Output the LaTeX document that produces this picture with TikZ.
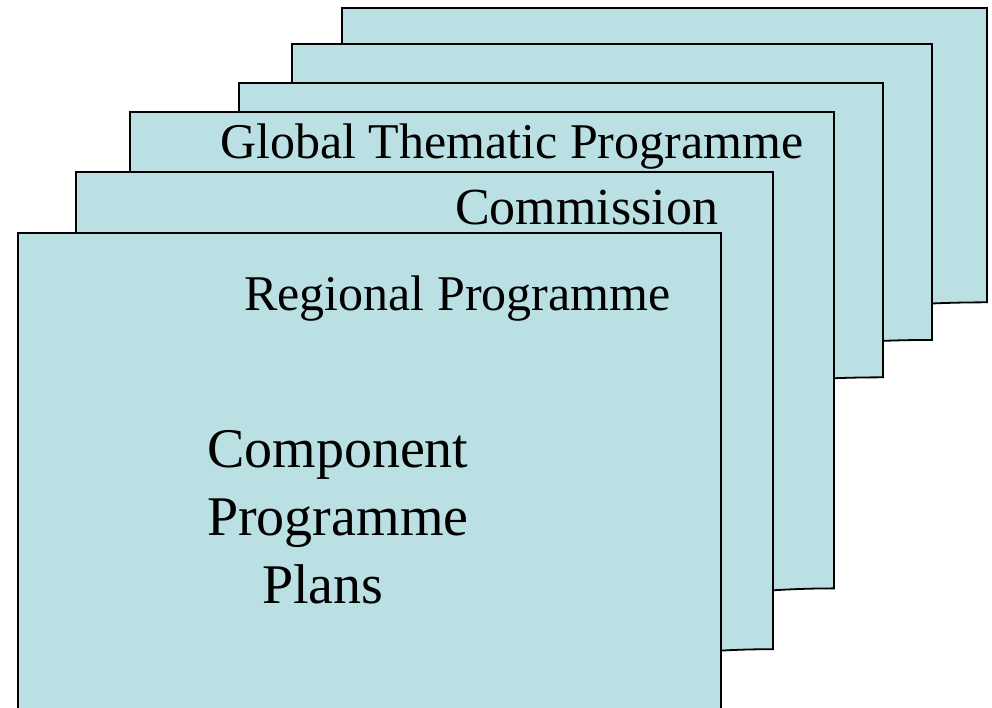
\documentclass[tikz,border=0pt]{standalone}
\usepackage{fontspec}
\setmainfont{Liberation Serif}
\definecolor{docfill}{HTML}{BBE0E3}
\newcommand\mydoc[4]{%
  \path[docshape] (#1,#2) -- (#3,#2) -- (#3,{#2+0.802*#4})
    .. controls ({(#1+#3)/2},{#2+0.802*#4}) and ({(#1+#3)/2},{#2+1.108*#4}) ..
    (#1,{#2+0.934*#4}) -- cycle;}
\begin{document}
\begin{tikzpicture}[x=1pt,y=-1pt,
  docshape/.style={fill=docfill,draw=black,line width=1.8pt,line join=miter},
  lbl/.style={font=\fontsize{50}{60}\selectfont,inner sep=0pt,anchor=base west},
  biglbl/.style={font=\fontsize{56}{67.5}\selectfont,inner sep=0pt,anchor=base west}]
\useasboundingbox (0,0) rectangle (992,708);
\clip (0,0) rectangle (992,708);
\mydoc{342}{8}{987}{367}
\mydoc{292}{44}{932}{369}
\mydoc{239}{83}{883}{367}
\mydoc{130}{112}{834}{594}
\mydoc{76}{172}{773}{595}
\path[docshape] (18,233) rectangle (721,760);
\node[lbl] (global) at (220,159) {Global Thematic Programme};
\node[lbl,font=\fontsize{52}{60}\selectfont] (commission) at (455,225) {Commission};
\node[lbl] (regional) at (244,310) {Regional Programme};
\node[biglbl] (comp1) at (207,467) {Component};
\node[biglbl] (comp2) at (207,535) {Programme};
\node[biglbl] (comp3) at (262,603) {Plans};
\end{tikzpicture}
\end{document}
